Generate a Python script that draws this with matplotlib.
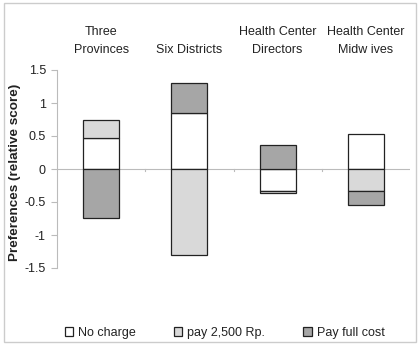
import matplotlib
matplotlib.use("Agg")
import matplotlib.pyplot as plt
import numpy as np
from matplotlib.patches import Rectangle

plt.rcParams['font.family'] = ['Liberation Sans', 'DejaVu Sans']

categories = ["Three\nProvinces", "Six Districts", "Health Center\nDirectors", "Health Center\nMidw ives"]
series_names = ["No charge", "pay 2,500 Rp.", "Pay full cost"]
no_charge = [0.47, 0.85, -0.33, 0.53]
pay_2500 = [0.27, -1.30, -0.04, -0.34]
pay_full = [-0.74, 0.45, 0.36, -0.20]
yticks = [1.5, 1, 0.5, 0, -0.5, -1, -1.5]
ytick_labels = ["1.5", "1", "0.5", "0", "-0.5", "-1", "-1.5"]

colors = ["#ffffff", "#d9d9d9", "#a6a6a6"]
edge = "#222222"

W, H = 419, 345
fig = plt.figure(figsize=(W / 100, H / 100), dpi=100)
fig.patches.append(Rectangle((4 / W, 3 / H), 412 / W, 339 / H, transform=fig.transFigure,
                             fill=False, edgecolor="#cccccc", linewidth=1.0))

ax = fig.add_axes([57 / W, 1 - 268 / H, (410 - 57) / W, (268 - 70) / H])
x = np.arange(len(categories))
width = 0.41

pos_base = np.zeros(len(categories))
neg_base = np.zeros(len(categories))
for name, vals, col in zip(series_names, [no_charge, pay_2500, pay_full], colors):
    vals = np.array(vals)
    bottoms = np.where(vals >= 0, pos_base, neg_base)
    ax.bar(x, vals, width, bottom=bottoms, color=col, edgecolor=edge, linewidth=0.9, label=name)
    pos_base = pos_base + np.where(vals >= 0, vals, 0)
    neg_base = neg_base + np.where(vals < 0, vals, 0)

ax.set_xlim(-0.5, len(categories) - 0.5)
ax.set_ylim(-1.5, 1.5)
ax.set_yticks(yticks)
ax.set_yticklabels(ytick_labels)
ax.tick_params(axis='y', length=4, color="#bbbbbb", labelsize=9, labelcolor="#222222", pad=4)
ax.set_xticks([])

for s in ["top", "right", "bottom"]:
    ax.spines[s].set_visible(False)
ax.spines["left"].set_color("#bbbbbb")
ax.spines["left"].set_linewidth(0.8)

# zero line with category divider ticks
ax.axhline(0, color="#bbbbbb", linewidth=0.8, zorder=0)
for b in np.arange(0.5, len(categories) - 0.5, 1.0):
    ax.plot([b, b], [0, -0.03], color="#bbbbbb", linewidth=0.8, zorder=0)

ax.set_ylabel("Preferences (relative score)", fontsize=9.7, fontweight="bold", color="#222222")
ax.yaxis.set_label_coords((21 - 57) / 353, 0.485)

# category labels above the plot
for i, c in enumerate(categories):
    ax.text(i, 1.5 + 14 / 66, c, ha="center", va="bottom", fontsize=9, color="#222222",
            linespacing=1.65, transform=ax.transData)

fig.legend(loc="center", bbox_to_anchor=(0.536, 1 - 333 / H), ncol=3, frameon=False,
           fontsize=9, handlelength=0.7, handleheight=0.7, handletextpad=0.4,
           columnspacing=3.0, labelcolor="#222222")

fig.savefig("out.png", dpi=100)
